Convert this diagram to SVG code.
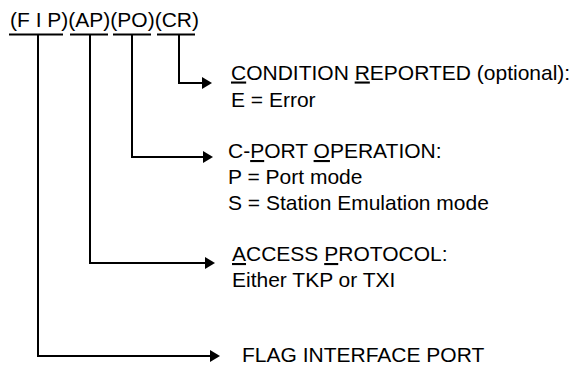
<svg xmlns="http://www.w3.org/2000/svg" width="576" height="366" viewBox="0 0 576 366">
  <style>
    text { font-family: "Liberation Sans", Arial, sans-serif; font-size: 21px; fill: #000; }
    .u { text-decoration: underline; }
    .bar { stroke: #000; stroke-width: 2; fill: none; }
    .conn { stroke: #000; stroke-width: 2; fill: none; marker-end: url(#arrow); }
  </style>
  <defs>
    <marker id="arrow" markerWidth="10" markerHeight="12" refX="0" refY="6" orient="auto" markerUnits="userSpaceOnUse">
      <path d="M0,0 L10,6 L0,12 Z" fill="#000"/>
    </marker>
  </defs>

  <!-- field code with underline bars -->
  <g id="code">
    <text x="10" y="27">(F I P)(AP)(PO)(CR)</text>
    <line class="bar" x1="9" y1="34.5" x2="63" y2="34.5"/>
    <line class="bar" x1="70" y1="34.5" x2="108" y2="34.5"/>
    <line class="bar" x1="113" y1="34.5" x2="151" y2="34.5"/>
    <line class="bar" x1="157" y1="34.5" x2="195" y2="34.5"/>
  </g>

  <!-- connectors from each field to its description -->
  <g id="connectors">
    <polyline class="conn" points="179,34.5 179,83 202,83"/>
    <polyline class="conn" points="132,34.5 132,157 203,157"/>
    <polyline class="conn" points="90,34.5 90,263 205,263"/>
    <polyline class="conn" points="38,34.5 38,356 210,356"/>
  </g>

  <g id="cr">
    <text x="231" y="79.5"><tspan class="u">C</tspan>ONDITION <tspan class="u">R</tspan>EPORTED (optional):</text>
    <text x="231" y="107">E = Error</text>
  </g>

  <g id="po">
    <text x="228" y="158">C-<tspan class="u">P</tspan>ORT <tspan class="u">O</tspan>PERATION:</text>
    <text x="228" y="184">P = Port mode</text>
    <text x="228" y="210">S = Station Emulation mode</text>
  </g>

  <g id="ap">
    <text x="232" y="261"><tspan class="u">A</tspan>CCESS <tspan class="u">P</tspan>ROTOCOL:</text>
    <text x="232" y="287">Either TKP or TXI</text>
  </g>

  <g id="fip">
    <text x="242" y="362">FLAG INTERFACE PORT</text>
  </g>
</svg>
